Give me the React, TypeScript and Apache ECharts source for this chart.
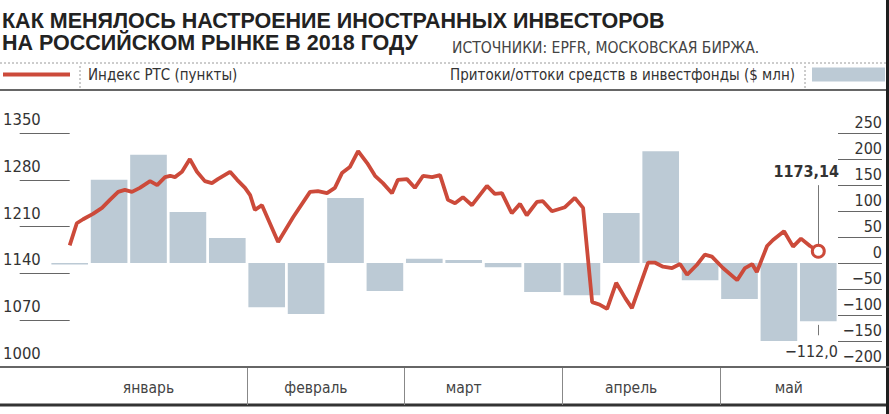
import React, { useEffect, useRef } from 'react';
import * as echarts from 'echarts';

// Weekly fund flows (EPFR), $ mln — week ending dates
const weekLabels = ['03.01', '10.01', '17.01', '24.01', '31.01', '07.02', '14.02', '21.02', '28.02', '07.03', '14.03', '21.03', '28.03', '04.04', '11.04', '18.04', '25.04', '02.05', '09.05', '16.05'];
const fundFlows = [-3, 160, 208, 98, 48, -85, -98, 125, -54, 8, 6, -8, -56, -62, 96, 215, -33, -69, -150, -112];

// RTS index (points); position expressed in weeks (0 = first week, 19 = last week)
const rtsWeek = [
  0, 0.18, 0.34, 0.59, 0.82, 1.02, 1.23, 1.4, 1.58, 1.78,
  2.04, 2.22, 2.42, 2.55, 2.67, 2.85, 3.05, 3.23, 3.43, 3.61,
  3.76, 4.07, 4.25, 4.45, 4.58, 4.7, 4.88, 5.29, 5.67, 6.1,
  6.3, 6.53, 6.73, 6.91, 7.11, 7.32, 7.55, 7.75, 7.95, 8.18,
  8.33, 8.56, 8.76, 8.97, 9.2, 9.4, 9.6, 9.78, 9.98, 10.21,
  10.59, 10.79, 10.97, 11.22, 11.43, 11.6, 11.86, 12.01, 12.24, 12.57,
  12.82, 13.03, 13.26, 13.46, 13.64, 13.87, 14.1, 14.27, 14.48, 14.68,
  14.86, 15.06, 15.29, 15.49, 15.67, 15.92, 16.12, 16.3, 16.58, 16.94,
  17.14, 17.32, 17.44, 17.7, 17.85, 18.13, 18.36, 18.56, 18.79, 19,
];
const rtsValue = [
  1182, 1215, 1221, 1229, 1238, 1250, 1262, 1265, 1262, 1268,
  1278, 1272, 1284, 1286, 1284, 1292, 1311, 1292, 1278, 1275,
  1281, 1292, 1280, 1268, 1257, 1235, 1242, 1187, 1224, 1262,
  1263, 1260, 1268, 1290, 1299, 1323, 1305, 1286, 1275, 1260,
  1280, 1281, 1268, 1286, 1284, 1287, 1250, 1245, 1254, 1242,
  1271, 1259, 1260, 1230, 1244, 1227, 1247, 1248, 1233, 1239,
  1253, 1238, 1097, 1093, 1087, 1126, 1103, 1088, 1123, 1156,
  1156, 1150, 1148, 1154, 1138, 1153, 1168, 1165, 1148, 1130,
  1148, 1154, 1142, 1181, 1190, 1203, 1180, 1192, 1181, 1173.14,
];

// Month axis (in quarter-week steps)
const months = ['январь', 'февраль', 'март', 'апрель', 'май'];
const monthLabelAt = [10, 27, 42, 59, 75];
const monthBoundaryAt = [20, 36, 52, 68];
const monthSlots = 81;

const leftMin = 1000, leftMax = 1350, leftStep = 70;
const rightMin = -200, rightMax = 250, rightStep = 50;

const TITLE = 'КАК МЕНЯЛОСЬ НАСТРОЕНИЕ ИНОСТРАННЫХ ИНВЕСТОРОВ\nНА РОССИЙСКОМ РЫНКЕ В 2018 ГОДУ';
const SOURCE = 'ИСТОЧНИКИ: EPFR, МОСКОВСКАЯ БИРЖА.';
const RTS_NAME = 'Индекс РТС (пункты)';
const FLOW_NAME = 'Притоки/оттоки средств в инвестфонды ($ млн)';

const NARROW = "'Liberation Sans Narrow', 'DejaVu Sans Condensed', 'Liberation Sans', sans-serif";
const SANS = "'Liberation Sans', Arial, sans-serif";
const RED = '#cc4a3a';
const BLUE = '#bccad5';

const fmtRu = (v: number, d: number) => v.toFixed(d).replace('.', ',').replace('-', '−');

export default function App() {
  const ref = useRef<HTMLDivElement>(null);

  useEffect(() => {
    if (!ref.current) return;
    const chart = echarts.init(ref.current, null, { renderer: 'svg' });

    const lastIdx = rtsValue.length - 1;
    const lineData = rtsWeek.map((w, i) =>
      i === lastIdx
        ? {
            value: [w, rtsValue[i]],
            symbol: 'circle',
            symbolSize: 12,
            itemStyle: { color: '#fff', borderColor: RED, borderWidth: 3 },
          }
        : [w, rtsValue[i]]
    );
    const monthData = Array.from({ length: monthSlots }, (_, i) => {
      const k = monthLabelAt.indexOf(i);
      return k >= 0 ? months[k] : '';
    });
    const lastWeek = weekLabels[weekLabels.length - 1];
    const lastFlow = fundFlows[fundFlows.length - 1];

    chart.setOption({
      animation: false,
      backgroundColor: '#fff',
      textStyle: { fontFamily: NARROW },
      title: [
        {
          text: TITLE,
          left: 2,
          top: 10,
          padding: 0,
          textStyle: { fontFamily: SANS, fontSize: 21.5, fontWeight: 'bold', color: '#222', lineHeight: 22 },
        },
        {
          text: SOURCE,
          left: 452,
          top: 40,
          padding: 0,
          textStyle: { fontFamily: NARROW, fontSize: 15.5, fontWeight: 'normal', color: '#444' },
        },
      ],
      legend: [
        {
          data: [RTS_NAME],
          left: 3,
          top: 67,
          padding: 0,
          icon: 'rect',
          itemWidth: 67,
          itemHeight: 4,
          selectedMode: false,
          textStyle: { fontFamily: NARROW, fontSize: 15, color: '#333', padding: [0, 0, 0, 13] },
        },
        {
          data: [FLOW_NAME],
          right: 4,
          top: 67,
          padding: 0,
          align: 'right',
          icon: 'rect',
          itemWidth: 73,
          itemHeight: 14,
          selectedMode: false,
          textStyle: { fontFamily: NARROW, fontSize: 15, color: '#333', padding: [0, 12, 0, 0] },
        },
      ],
      grid: { left: 50, right: 51, top: 133, bottom: 47, containLabel: false },
      xAxis: [
        { type: 'category', data: weekLabels, show: false, boundaryGap: true },
        { type: 'value', min: -0.5, max: 19.5, show: false },
        {
          type: 'category',
          data: monthData,
          position: 'bottom',
          boundaryGap: false,
          axisLine: { show: false },
          axisTick: {
            show: true,
            inside: false,
            length: 38,
            interval: (i: number) => monthBoundaryAt.includes(i),
            lineStyle: { color: '#888', width: 1 },
          },
          axisLabel: {
            interval: (i: number) => monthLabelAt.includes(i),
            margin: 13,
            fontSize: 15.5,
            color: '#444',
            fontFamily: NARROW,
          },
          splitLine: { show: false },
        },
      ],
      yAxis: [
        {
          type: 'value',
          position: 'left',
          min: leftMin,
          max: leftMax,
          interval: leftStep,
          axisLine: { show: false },
          axisTick: { show: true, length: 50, lineStyle: { color: '#666', width: 1 } },
          axisLabel: {
            align: 'left',
            verticalAlign: 'bottom',
            margin: 47,
            padding: [0, 0, 5, 0],
            fontSize: 16.5,
            color: '#333',
            fontFamily: NARROW,
            formatter: (v: number) => String(v),
          },
          splitLine: { show: false },
        },
        {
          type: 'value',
          position: 'right',
          min: rightMin,
          max: rightMax,
          interval: rightStep,
          axisLine: { show: false },
          axisTick: { show: true, length: 44, lineStyle: { color: '#666', width: 1 } },
          axisLabel: {
            align: 'right',
            verticalAlign: 'bottom',
            margin: 44,
            padding: [0, 0, 3, 0],
            fontSize: 16,
            color: '#333',
            fontFamily: NARROW,
            formatter: (v: number) => String(v).replace('-', '−'),
          },
          splitLine: { show: false },
        },
      ],
      series: [
        {
          name: FLOW_NAME,
          type: 'bar',
          xAxisIndex: 0,
          yAxisIndex: 1,
          data: fundFlows,
          barCategoryGap: '7%',
          itemStyle: { color: BLUE },
          z: 1,
          markLine: {
            silent: true,
            symbol: 'none',
            lineStyle: { color: '#777', width: 1, type: 'solid' },
            label: {
              show: true,
              position: 'end',
              distance: 8,
              formatter: () => fmtRu(lastFlow, 1),
              fontFamily: NARROW,
              fontSize: 16,
              color: '#333',
              padding: [0, 14, 0, 0],
            },
            data: [[{ coord: [lastWeek, -119] }, { coord: [lastWeek, -139] }]],
          },
        },
        {
          name: RTS_NAME,
          type: 'line',
          xAxisIndex: 1,
          yAxisIndex: 0,
          data: lineData,
          symbol: 'none',
          showSymbol: true,
          color: RED,
          lineStyle: { color: RED, width: 3.8 },
          z: 5,
          markLine: {
            silent: true,
            symbol: 'none',
            lineStyle: { color: '#777', width: 1, type: 'solid' },
            label: {
              show: true,
              position: 'end',
              distance: 6,
              formatter: () => fmtRu(rtsValue[lastIdx], 2),
              fontFamily: NARROW,
              fontSize: 16,
              fontWeight: 'bold',
              color: '#333',
              padding: [0, 24, 0, 0],
            },
            data: [[{ coord: [rtsWeek[lastIdx], 1183] }, { coord: [rtsWeek[lastIdx], 1272] }]],
          },
        },
      ],
      graphic: [
        { type: 'line', silent: true, shape: { x1: 0, y1: 63, x2: 889, y2: 63 }, style: { stroke: '#9a9a9a', lineWidth: 1, lineDash: [2, 2] } },
        { type: 'line', silent: true, shape: { x1: 80, y1: 66, x2: 80, y2: 88 }, style: { stroke: '#9a9a9a', lineWidth: 1, lineDash: [2, 2] } },
        { type: 'line', silent: true, shape: { x1: 805, y1: 66, x2: 805, y2: 88 }, style: { stroke: '#9a9a9a', lineWidth: 1, lineDash: [2, 2] } },
        { type: 'line', silent: true, shape: { x1: 0, y1: 90, x2: 889, y2: 90 }, style: { stroke: '#666', lineWidth: 2 } },
        { type: 'line', silent: true, z: 10, shape: { x1: 0, y1: 367, x2: 889, y2: 367 }, style: { stroke: '#666', lineWidth: 2 } },
        { type: 'line', silent: true, shape: { x1: 0, y1: 405, x2: 889, y2: 405 }, style: { stroke: '#333', lineWidth: 3 } },
        { type: 'rect', silent: true, shape: { x: 886, y: 0, width: 3, height: 414 }, style: { fill: '#1e1e1e' } },
      ],
    });

    return () => chart.dispose();
  }, []);

  return (
    <div
      ref={ref}
      style={{ position: 'fixed', left: 0, top: 0, width: 889, height: 414, background: '#fff' }}
    />
  );
}
